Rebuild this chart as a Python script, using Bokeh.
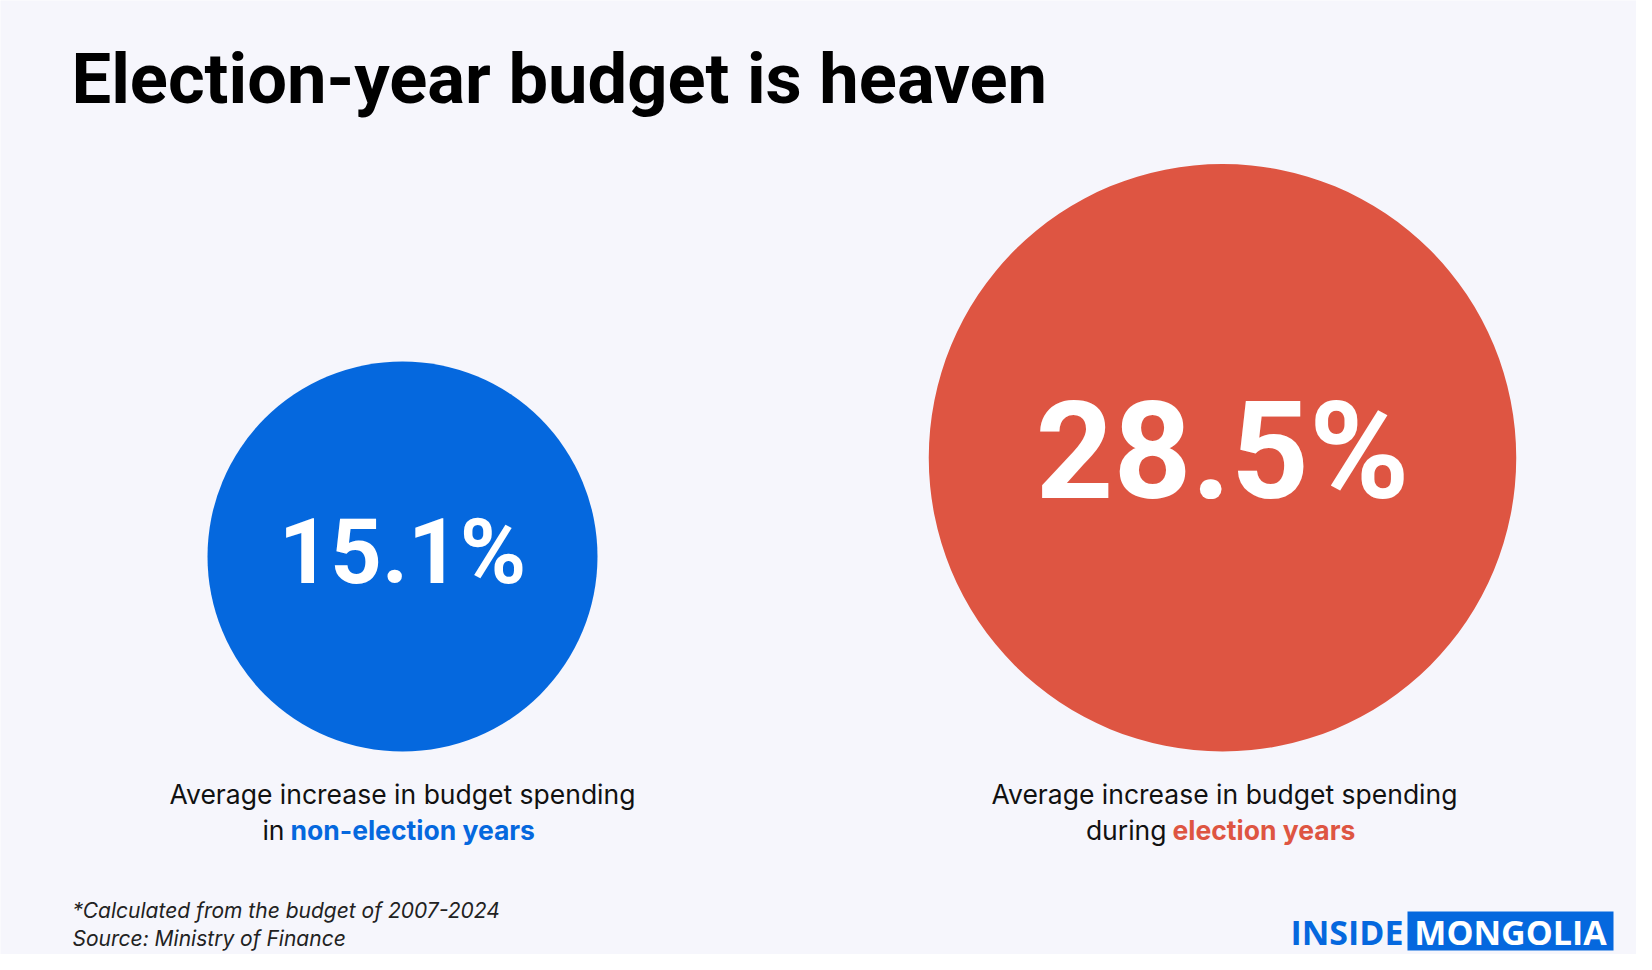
from bokeh.plotting import figure
from bokeh.models import Range1d, ColumnDataSource
from bokeh.core.properties import value
from bokeh.embed import file_html
from bokeh.resources import INLINE

# ---- data ----
categories = ["Non-election years", "Election years"]
values = [15.1, 28.5]
value_labels = ["15.1%", "28.5%"]
caption_line1 = ["Average increase in budget spending", "Average increase in budget spending"]
caption_lead = ["in", "during"]
caption_emph = ["non-election years", "election years"]
title = "Election-year budget is heaven"
notes = ["*Calculated from the budget of 2007-2024", "Source: Ministry of Finance"]
brand = ["INSIDE", "MONGOLIA"]

# ---- style ----
BG = "#F6F6FC"
COLORS = ["#0568DE", "#DE5542"]
W, H = 1636, 954

p = figure(width=W, height=H, output_backend="svg", toolbar_location=None,
           x_range=Range1d(0, W), y_range=Range1d(H, 0),
           min_border=0, background_fill_color=BG, border_fill_color=BG)
p.axis.visible = False
p.grid.visible = False
p.outline_line_color = None

# circle geometry: radius from value through a power scale, bottoms aligned
base_r = 195.0
exp_ = 0.645
radii = [base_r * (v / values[0]) ** exp_ for v in values]
cx = [402, 1222]
bottom = 751
cy = [bottom - r for r in radii]

src = ColumnDataSource(dict(x=cx, y=cy, r=radii, color=COLORS, label=value_labels,
                            fs=[f"{r * 0.462:.0f}px" for r in radii],
                            ty=[y - r * 0.022 for y, r in zip(cy, radii)]))
p.circle(x="x", y="y", radius="r", fill_color="color", line_color=None, source=src)
p.text(x="x", y="ty", text="label", text_font_size="fs", text_color="white",
       text_font=value("Roboto"), text_font_style="bold", text_align="center",
       text_baseline="middle", source=src)

# captions
FONT = value("Inter")
p.text(x=[402, 1224], y=[793, 793], text=caption_line1, text_font=FONT, text_font_size="26.5px",
       text_color="#111111", text_align="center", text_baseline="middle")
lead_right = [284, 1166]
p.text(x=lead_right, y=[829, 829], text=caption_lead, text_font=FONT, text_font_size="26.5px",
       text_color="#111111", text_align="right", text_baseline="middle")
p.text(x=[x + 6 for x in lead_right], y=[829, 829], text=caption_emph, text_font=FONT,
       text_font_size="26.5px", text_font_style="bold", text_color=COLORS,
       text_align="left", text_baseline="middle")

# title
p.text(x=[71], y=[78], text=[title], text_font=value("Roboto"), text_font_size="70.5px",
       text_font_style="bold", text_color="#000000", text_align="left",
       text_baseline="middle")

# notes
p.text(x=[72, 72], y=[910, 938], text=notes, text_font=FONT, text_font_size="21px",
       text_font_style="italic", text_color="#222222", text_align="left",
       text_baseline="middle")

# brand logo
p.quad(left=[1407], right=[1613], top=[911], bottom=[950], fill_color="#0568DE", line_color=None)
p.text(x=[1403], y=[931], text=[brand[0]], text_font=value("Open Sans"), text_font_size="34px",
       text_font_style="bold", text_color="#0568DE", text_align="right", text_baseline="middle")
p.text(x=[1510], y=[931], text=[brand[1]], text_font=value("Open Sans"), text_font_size="34px",
       text_font_style="bold", text_color="white", text_align="center", text_baseline="middle")

open("out.html", "w").write(file_html(p, INLINE))
